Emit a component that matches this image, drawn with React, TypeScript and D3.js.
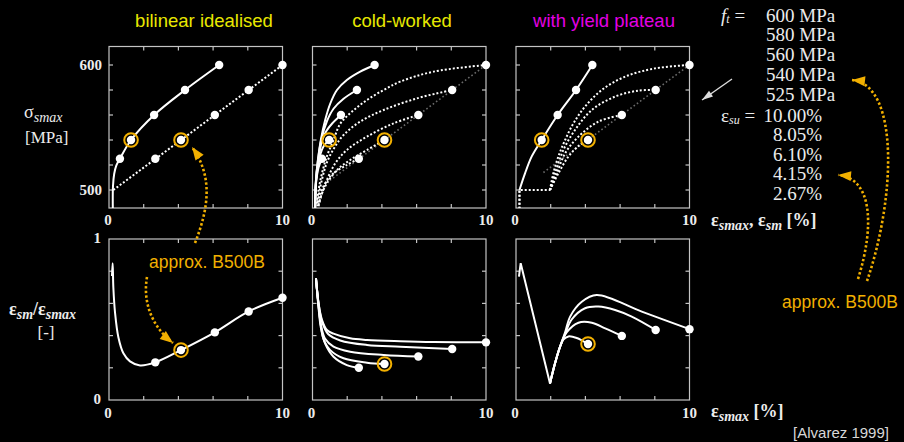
import React from 'react';
import * as d3 from 'd3';

type Pt = [number, number];

// ---------- axes ----------
const STRAIN_DOMAIN: Pt = [0, 10];
const STRESS_DOMAIN: Pt = [485.6, 614.8];
const RATIO_DOMAIN: Pt = [0, 1];
const STRAIN_TICKS = [2, 4, 6, 8];
const STRESS_TICKS = [500, 520, 540, 560, 580, 600];
const RATIO_TICKS = [0.2, 0.4, 0.6, 0.8];
const STRAIN_TICK_LABELS = ['0', '10'];
const STRESS_TICK_LABELS = ['600', '500'];
const RATIO_TICK_LABELS = ['1', '0'];
const PANEL_TITLES = ['bilinear idealised', 'cold-worked', 'with yield plateau'];

// ---------- legend ----------
const FT = [600, 580, 560, 540, 525];
const ESU = [10.0, 8.05, 6.1, 4.15, 2.67];
const FT_LABELS = ['600 MPa', '580 MPa', '560 MPa', '540 MPa', '525 MPa'];
const ESU_LABELS = ['10.00%', '8.05%', '6.10%', '4.15%', '2.67%'];
const CIRCLED_FT = 540;

// ---------- top row: sigma_smax [MPa] vs strain [%] ----------
// bilinear idealised
const BL_SMAX = [6.35, 4.38, 2.6, 1.27, 0.63]; // eps_smax at ft
const BL_TOP_SOLID: Pt[] = [[0.22, 485], [0.23, 503], [0.3, 513], [0.42, 519.5], [0.63, 525], [1.27, 540], [2.6, 560], [4.38, 580], [6.35, 600]];
const BL_TOP_DOTTED: Pt[] = [[0.25, 500], [10, 600]];

// cold-worked
const CW_SMAX = [3.58, 2.56, 1.64, 0.96, 0.54];
const CW_TOP_SOLID: Pt[][] = [
  [[0.15, 485], [0.2, 508], [0.31, 524], [0.48, 540], [0.73, 556], [1.02, 569], [1.41, 580], [1.98, 588], [2.75, 594.7], [3.58, 600]],
  [[0.15, 485], [0.2, 508], [0.31, 523], [0.5, 540], [0.83, 555], [1.21, 565], [1.79, 573], [2.56, 580]],
  [[0.15, 485], [0.2, 507], [0.32, 522], [0.54, 539], [0.79, 547], [1.12, 553], [1.64, 560]],
  [[0.15, 485], [0.2, 506], [0.33, 520], [0.44, 528], [0.64, 535], [0.96, 540]],
  [[0.15, 485], [0.2, 505], [0.35, 518], [0.54, 525]],
];
const CW_TOP_DOTTED: Pt[][] = [
  [[0.25, 489], [0.35, 500], [0.54, 513], [0.83, 527], [1.21, 540], [1.6, 553], [2.3, 563], [3.14, 572], [4.1, 580], [5.06, 586.7], [6.98, 594.7], [10, 600]],
  [[0.28, 487], [0.35, 494.7], [0.54, 508], [0.83, 522], [1.21, 532.7], [1.79, 544], [2.75, 554.7], [4.1, 564], [6.02, 573.3], [8.05, 580]],
  [[0.35, 487], [0.54, 497], [0.83, 508], [1.31, 521.3], [1.98, 532], [3.14, 542.7], [4.67, 553.3], [6.1, 560]],
  [[0.35, 488], [0.54, 497], [0.83, 505.3], [1.41, 516], [2.17, 524], [3.14, 532], [4.15, 540]],
  [[0.3, 490], [0.44, 497], [0.73, 505.3], [1.21, 513.3], [1.98, 520], [2.67, 525]],
];
const CW_TOP_DIM: Pt[] = [[1.0, 507.7], [10, 600]];

// with yield plateau
const YP_SMAX = [4.4, 3.46, 2.4, 1.48];
const YP_TOP_SOLID: Pt[] = [[0.2, 500], [0.52, 513.3], [0.9, 526.7], [1.48, 540], [2.4, 560], [3.46, 580], [4.4, 600]];
const YP_TOP_PLATEAU: Pt[] = [[0.2, 485], [0.2, 500], [1.96, 500]];
const YP_TOP_DOTTED: Pt[][] = [
  [[1.96, 500], [2.15, 513.3], [2.44, 526.7], [2.83, 540], [3.31, 553.3], [3.98, 566.7], [4.94, 580], [6.29, 590.7], [8.02, 597.3], [10, 600]],
  [[1.96, 500], [2.25, 513.3], [2.73, 532], [3.4, 548], [4.37, 564], [5.71, 574.7], [7.06, 579.5], [8.05, 580]],
  [[1.96, 500], [2.35, 513.3], [2.83, 529.3], [3.6, 542.7], [4.75, 554.7], [6.1, 560]],
  [[1.96, 500], [2.44, 513.3], [3.02, 526.7], [3.6, 535.2], [4.15, 540]],
];
const YP_TOP_DIM: Pt[] = [[1.58, 514], [10, 600]];

// ---------- bottom row: eps_sm / eps_smax [-] vs eps_smax [%] ----------
const BL_RATIO = [0.635, 0.55, 0.42, 0.31, 0.234];
const BL_BOT: Pt[] = [[0.17, 0.77], [0.21, 0.85], [0.25, 0.7], [0.35, 0.54], [0.54, 0.39], [0.83, 0.29], [1.21, 0.24], [1.79, 0.215], [2.67, 0.234], [4.15, 0.31], [6.1, 0.42], [8.05, 0.55], [10, 0.635]];

const CW_RATIO = [0.358, 0.317, 0.27, 0.224, 0.2];
const CW_BOT: Pt[][] = [
  [[0.2, 0.755], [0.35, 0.6], [0.54, 0.5], [0.83, 0.435], [1.21, 0.412], [2.17, 0.383], [3.14, 0.373], [5.06, 0.365], [6.98, 0.36], [10, 0.358]],
  [[0.2, 0.755], [0.35, 0.6], [0.54, 0.49], [0.9, 0.41], [1.6, 0.37], [3.14, 0.342], [5.06, 0.331], [8.05, 0.317]],
  [[0.2, 0.755], [0.35, 0.59], [0.5, 0.46], [0.73, 0.38], [1.21, 0.331], [2.17, 0.3], [4.1, 0.28], [6.1, 0.27]],
  [[0.2, 0.755], [0.35, 0.58], [0.5, 0.45], [0.63, 0.38], [1.02, 0.31], [1.79, 0.259], [3.14, 0.232], [4.15, 0.224]],
  [[0.2, 0.755], [0.35, 0.57], [0.48, 0.45], [0.73, 0.35], [1.21, 0.269], [1.98, 0.217], [2.67, 0.2]],
];

const YP_RATIO = [0.44, 0.435, 0.398, 0.348];
const YP_BOT_V: Pt[] = [[0.17, 0.766], [0.27, 0.85], [1.96, 0.103]];
const YP_BOT: Pt[][] = [
  [[1.96, 0.103], [2.25, 0.228], [2.54, 0.331], [2.83, 0.42], [3.12, 0.518], [3.79, 0.61], [4.65, 0.652], [7.25, 0.549], [10, 0.44]],
  [[1.96, 0.103], [2.25, 0.228], [2.54, 0.331], [2.83, 0.41], [3.21, 0.5], [3.98, 0.57], [4.75, 0.58], [5.71, 0.559], [6.67, 0.518], [8.05, 0.435]],
  [[1.96, 0.103], [2.25, 0.228], [2.54, 0.331], [2.92, 0.42], [3.6, 0.48], [4.37, 0.48], [5.14, 0.445], [6.1, 0.398]],
  [[1.96, 0.103], [2.25, 0.228], [2.54, 0.331], [2.73, 0.375], [3.02, 0.395], [3.5, 0.385], [4.15, 0.348]],
];

// ---------- annotations (page pixels: cubic bezier P0..P3) ----------
const ANN_TO_TOP: Pt[] = [[195, 243], [210, 205], [212, 175], [192, 147]];
const ANN_TO_BOT: Pt[] = [[147, 277], [143, 300], [150, 325], [173, 343]];
const ANN_TO_FT: Pt[] = [[867, 281], [895, 200], [900, 85], [852, 80]];
const ANN_TO_ESU: Pt[] = [[858, 279], [875, 225], [872, 178], [838, 175]];
const WHITE_ARROW: Pt[] = [[732, 79], [702, 100]];

// ---------- layout ----------
const PANEL_X = [109, 312.5, 516];
const PANEL_W = 173.5;
const TOP_Y: Pt = [46.5, 208];
const BOT_Y: Pt = [239, 400];
const TICK = 4;

const C_FRAME = '#c4c4c4';
const C_TEXT = '#ececec';
const C_YELLOW = '#e8e800';
const C_MAGENTA = '#e400e4';
const C_ORANGE = '#f2b000';
const SERIF = '"Liberation Serif", "DejaVu Serif", serif';
const SANS = '"Liberation Sans", Arial, sans-serif';

const curve = d3.curveCatmullRom.alpha(0.5);

function Frame({ x, y, xt, yt }: { x: d3.ScaleLinear<number, number>; y: d3.ScaleLinear<number, number>; xt: number[]; yt: number[] }) {
  const [x0, x1] = x.range();
  const [y1, y0] = y.range();
  return (
    <g stroke={C_FRAME} strokeWidth={1.2} fill="none">
      <rect x={x0} y={y0} width={x1 - x0} height={y1 - y0} />
      {xt.map((v) => (
        <g key={'x' + v}>
          <line x1={x(v)} x2={x(v)} y1={y0} y2={y0 + TICK} />
          <line x1={x(v)} x2={x(v)} y1={y1} y2={y1 - TICK} />
        </g>
      ))}
      {yt.map((v) => (
        <g key={'y' + v}>
          <line x1={x0} x2={x0 + TICK} y1={y(v)} y2={y(v)} />
          <line x1={x1} x2={x1 - TICK} y1={y(v)} y2={y(v)} />
        </g>
      ))}
    </g>
  );
}

function Markers({ pts, circled }: { pts: Pt[]; circled: boolean[] }) {
  return (
    <g>
      {pts.map((p, i) => (
        <g key={i}>
          <circle cx={p[0]} cy={p[1]} r={4.2} fill="#fff" />
          {circled[i] && <circle cx={p[0]} cy={p[1]} r={6.8} fill="none" stroke={C_ORANGE} strokeWidth={2} />}
        </g>
      ))}
    </g>
  );
}

function bez(p: Pt[]) {
  return `M${p[0][0]},${p[0][1]} C${p[1][0]},${p[1][1]} ${p[2][0]},${p[2][1]} ${p[3][0]},${p[3][1]}`;
}

function head(tip: Pt, from: Pt, len: number, wid: number) {
  const dx = tip[0] - from[0];
  const dy = tip[1] - from[1];
  const L = Math.hypot(dx, dy) || 1;
  const ux = dx / L, uy = dy / L;
  const bx = tip[0] - ux * len, by = tip[1] - uy * len;
  const nx = -uy * wid / 2, ny = ux * wid / 2;
  return `M${tip[0]},${tip[1]} L${bx + nx},${by + ny} L${bx - nx},${by - ny} Z`;
}

function OrangeArrow({ p }: { p: Pt[] }) {
  return (
    <g>
      <path d={bez(p)} fill="none" stroke={C_ORANGE} strokeWidth={2.6} strokeDasharray="2.4 2.2" />
      <path d={head(p[3], p[2], 13, 10)} fill={C_ORANGE} />
    </g>
  );
}

export default function App() {
  const xs = PANEL_X.map((x0) => d3.scaleLinear().domain(STRAIN_DOMAIN).range([x0, x0 + PANEL_W]));
  const yTop = d3.scaleLinear().domain(STRESS_DOMAIN).range([TOP_Y[1], TOP_Y[0]]);
  const yBot = d3.scaleLinear().domain(RATIO_DOMAIN).range([BOT_Y[1], BOT_Y[0]]);

  const gen = (x: d3.ScaleLinear<number, number>, y: d3.ScaleLinear<number, number>, lin = false) =>
    d3.line<Pt>().x((d) => x(d[0])).y((d) => y(d[1])).curve(lin ? d3.curveLinear : curve);

  const solid = { fill: 'none', stroke: '#fff', strokeWidth: 2 };
  const dotted = { fill: 'none', stroke: '#fff', strokeWidth: 2, strokeDasharray: '2 2' };
  const dim = { fill: 'none', stroke: '#6a6a6a', strokeWidth: 1.6, strokeDasharray: '1.6 2.4' };

  const circledFt = FT.map((f) => f === CIRCLED_FT);

  // top panel points
  const topPts = (i: number, strains: number[]) => strains.map((s, k) => [xs[i](s), yTop(FT[k])] as Pt);
  const botPts = (i: number, ratios: number[]) => ratios.map((r, k) => [xs[i](ESU[k]), yBot(r)] as Pt);

  const titleColors = [C_YELLOW, C_YELLOW, C_MAGENTA];
  const titleX = [204, 402, 604];

  return (
    <svg width={904} height={442} style={{ position: 'absolute', left: 0, top: 0, background: '#000' }}>
      <rect x={0} y={0} width={904} height={442} fill="#000" />
      <defs>
        {xs.map((x, i) => (
          <g key={i}>
            <clipPath id={`ct${i}`}>
              <rect x={x.range()[0]} y={TOP_Y[0]} width={PANEL_W} height={TOP_Y[1] - TOP_Y[0]} />
            </clipPath>
            <clipPath id={`cb${i}`}>
              <rect x={x.range()[0]} y={BOT_Y[0]} width={PANEL_W} height={BOT_Y[1] - BOT_Y[0]} />
            </clipPath>
          </g>
        ))}
      </defs>

      {/* titles */}
      {PANEL_TITLES.map((t, i) => (
        <text key={t} x={titleX[i]} y={20} fill={titleColors[i]} fontFamily={SANS} fontSize={18.5} textAnchor="middle" dominantBaseline="central">
          {t}
        </text>
      ))}

      {/* frames */}
      {xs.map((x, i) => (
        <g key={i}>
          <Frame x={x} y={yTop} xt={STRAIN_TICKS} yt={STRESS_TICKS} />
          <Frame x={x} y={yBot} xt={STRAIN_TICKS} yt={RATIO_TICKS} />
        </g>
      ))}

      {/* tick labels */}
      <g fill={C_TEXT} fontFamily={SERIF} fontSize={15} fontWeight="bold" dominantBaseline="central">
        {xs.map((x, i) => (
          <g key={i} textAnchor="middle">
            {STRAIN_DOMAIN.map((v, k) => (
              <g key={k}>
                <text x={x(v) - (k === 0 ? 1 : 0)} y={220}>{STRAIN_TICK_LABELS[k]}</text>
                <text x={x(v) - (k === 0 ? 1 : 0)} y={412.5}>{STRAIN_TICK_LABELS[k]}</text>
              </g>
            ))}
          </g>
        ))}
        <g textAnchor="end">
          {[600, 500].map((v, k) => (
            <text key={v} x={102} y={yTop(v)}>{STRESS_TICK_LABELS[k]}</text>
          ))}
          {[1, 0].map((v, k) => (
            <text key={v} x={101} y={yBot(v) - 1.5}>{RATIO_TICK_LABELS[k]}</text>
          ))}
        </g>
      </g>

      {/* y-axis labels */}
      <g fill={C_TEXT} fontFamily={SERIF}>
        <text x={24} y={118} fontSize={18}>
          σ<tspan fontStyle="italic" fontSize={14} dy={4}>smax</tspan>
        </text>
        <text x={25} y={143} fontSize={17}>[MPa]</text>
        <text x={9} y={315} fontSize={18} fontWeight="bold">
          ε<tspan fontStyle="italic" fontSize={14} dy={4}>sm</tspan>
          <tspan dy={-4}>/ε</tspan>
          <tspan fontStyle="italic" fontSize={14} dy={4}>smax</tspan>
        </text>
        <text x={46} y={338} fontSize={17} textAnchor="middle">[-]</text>
      </g>

      {/* x-axis labels */}
      <g fill={C_TEXT} fontFamily={SERIF} fontWeight="bold">
        <text x={711} y={226} fontSize={18}>
          ε<tspan fontStyle="italic" fontSize={14} dy={4}>smax</tspan>
          <tspan dy={-4}>, ε</tspan>
          <tspan fontStyle="italic" fontSize={14} dy={4}>sm</tspan>
          <tspan dy={-4}> [%]</tspan>
        </text>
        <text x={711} y={417} fontSize={18}>
          ε<tspan fontStyle="italic" fontSize={14} dy={4}>smax</tspan>
          <tspan dy={-4}> [%]</tspan>
        </text>
      </g>

      {/* ---- top-left: bilinear ---- */}
      <g clipPath="url(#ct0)">
        <path d={gen(xs[0], yTop, true)(BL_TOP_DOTTED) || ''} {...dotted} />
        <path d={gen(xs[0], yTop)(BL_TOP_SOLID) || ''} {...solid} />
      </g>
      <Markers pts={topPts(0, BL_SMAX)} circled={circledFt} />
      <Markers pts={topPts(0, ESU)} circled={circledFt} />

      {/* ---- top-mid: cold-worked ---- */}
      <g clipPath="url(#ct1)">
        <path d={gen(xs[1], yTop, true)(CW_TOP_DIM) || ''} {...dim} />
        {CW_TOP_DOTTED.map((c, k) => (
          <path key={'d' + k} d={gen(xs[1], yTop)(c) || ''} {...dotted} />
        ))}
        {CW_TOP_SOLID.map((c, k) => (
          <path key={'s' + k} d={gen(xs[1], yTop)(c) || ''} {...solid} />
        ))}
      </g>
      <Markers pts={topPts(1, CW_SMAX)} circled={circledFt} />
      <Markers pts={topPts(1, ESU)} circled={circledFt} />

      {/* ---- top-right: yield plateau ---- */}
      <g clipPath="url(#ct2)">
        <path d={gen(xs[2], yTop, true)(YP_TOP_DIM) || ''} {...dim} />
        <path d={gen(xs[2], yTop, true)(YP_TOP_PLATEAU) || ''} {...dotted} />
        {YP_TOP_DOTTED.map((c, k) => (
          <path key={'d' + k} d={gen(xs[2], yTop)(c) || ''} {...dotted} />
        ))}
        <path d={gen(xs[2], yTop, true)([[0.2, 485], [0.2, 500]]) || ''} {...dotted} />
        <path d={gen(xs[2], yTop)(YP_TOP_SOLID) || ''} {...solid} />
      </g>
      <Markers pts={topPts(2, YP_SMAX)} circled={circledFt} />
      <Markers pts={topPts(2, ESU.slice(0, 4))} circled={circledFt} />

      {/* ---- bottom-left ---- */}
      <g clipPath="url(#cb0)">
        <path d={gen(xs[0], yBot)(BL_BOT) || ''} {...solid} />
      </g>
      <Markers pts={botPts(0, BL_RATIO)} circled={circledFt} />

      {/* ---- bottom-mid ---- */}
      <g clipPath="url(#cb1)">
        {CW_BOT.map((c, k) => (
          <path key={k} d={gen(xs[1], yBot)(c) || ''} {...solid} />
        ))}
      </g>
      <Markers pts={botPts(1, CW_RATIO)} circled={circledFt} />

      {/* ---- bottom-right ---- */}
      <g clipPath="url(#cb2)">
        <path d={gen(xs[2], yBot, true)(YP_BOT_V) || ''} {...solid} strokeLinejoin="miter" />
        {YP_BOT.map((c, k) => (
          <path key={k} d={gen(xs[2], yBot)(c) || ''} {...solid} />
        ))}
      </g>
      <Markers pts={botPts(2, YP_RATIO)} circled={circledFt} />

      {/* ---- legend ---- */}
      <g fill={C_TEXT} fontFamily={SERIF} fontSize={19} dominantBaseline="central">
        <text x={721} y={15}>
          <tspan fontStyle="italic">f</tspan>
          <tspan fontStyle="italic" fontSize={12} dy={4}>t</tspan>
          <tspan dy={-4}> =</tspan>
        </text>
        {FT_LABELS.map((t, k) => (
          <text key={t} x={766} y={15 + k * 19.8}>{t}</text>
        ))}
        <text x={721} y={115}>
          ε<tspan fontStyle="italic" fontSize={12} dy={5}>su</tspan>
          <tspan dy={-5}> =</tspan>
        </text>
        {ESU_LABELS.map((t, k) => (
          <text key={t} x={822} y={115 + k * 19.6} textAnchor="end">{t}</text>
        ))}
      </g>

      {/* white arrow */}
      <line x1={WHITE_ARROW[0][0]} y1={WHITE_ARROW[0][1]} x2={WHITE_ARROW[1][0]} y2={WHITE_ARROW[1][1]} stroke="#ddd" strokeWidth={1.4} />
      <path d={head(WHITE_ARROW[1], WHITE_ARROW[0], 11, 7)} fill="#ddd" />

      {/* orange annotations */}
      <OrangeArrow p={ANN_TO_TOP} />
      <OrangeArrow p={ANN_TO_BOT} />
      <OrangeArrow p={ANN_TO_FT} />
      <OrangeArrow p={ANN_TO_ESU} />
      <g fill={C_ORANGE} fontFamily={SANS} fontSize={17.5} dominantBaseline="central" textAnchor="middle">
        <text x={207} y={262}>approx. B500B</text>
        <text x={840} y={302}>approx. B500B</text>
      </g>

      <text x={841} y={432} fill="#d8d8d8" fontFamily={SANS} fontSize={15} textAnchor="middle" dominantBaseline="central">
        [Alvarez 1999]
      </text>
    </svg>
  );
}
